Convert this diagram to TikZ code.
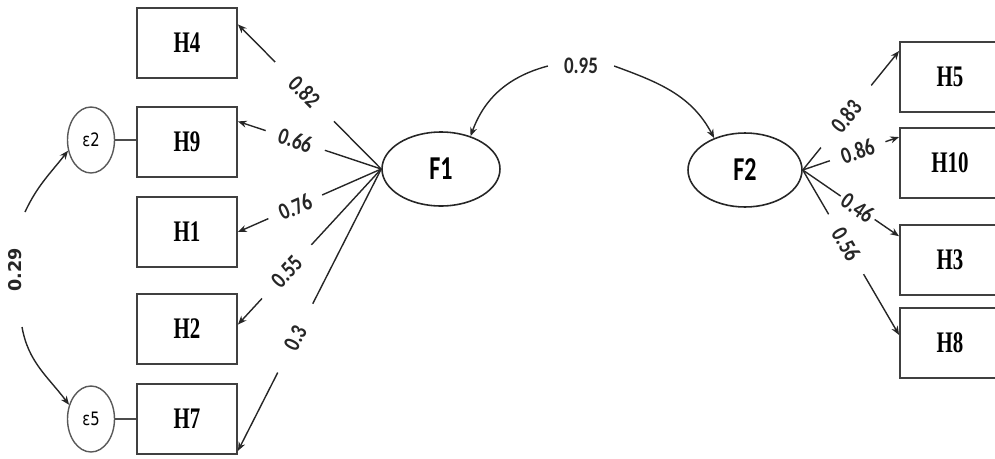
\documentclass[tikz,border=0pt]{standalone}
\usepackage{fontspec}
\usetikzlibrary{arrows.meta,shapes.geometric}
\newfontfamily\hfont[FakeStretch=0.7]{Liberation Serif}
\newfontfamily\nfont[FakeStretch=0.8]{Carlito}
\newfontfamily\ffont[FakeStretch=0.72]{Carlito}
\newfontfamily\dfont{DejaVu Sans}
\newfontfamily\efont[FakeStretch=0.8]{DejaVu Sans}
\begin{document}
\begin{tikzpicture}[x=0.02cm,y=0.02cm,
  ind/.style={draw=black!75,line width=1.1pt,minimum width=20mm,minimum height=14mm,inner sep=0pt,
    font=\hfont\bfseries\fontsize{17}{17}\selectfont},
  lat/.style={draw=black!85,ellipse,line width=0.9pt,minimum width=23.6mm,minimum height=14.8mm,inner sep=0pt,
    font=\ffont\bfseries\fontsize{19}{19}\selectfont},
  err/.style={draw=black!65,ellipse,line width=0.8pt,minimum width=9.4mm,minimum height=13.2mm,inner sep=0pt,
    font=\efont\fontsize{10.5}{10.5}\selectfont},
  load/.style={-{Stealth[length=5pt,width=4pt]},line width=0.8pt,black!85},
  coef/.style={sloped,inner ysep=1pt,text=black!85,font=\nfont\bfseries\fontsize{13.5}{13.5}\selectfont}]
\useasboundingbox (0,0) rectangle (995,458);
\clip (0,0) rectangle (995,458);
\node[ind] (H4) at (187,415) {H4};
\node[ind] (H9) at (187,316) {H9};
\node[ind] (H1) at (187,226) {H1};
\node[ind] (H2) at (187,129) {H2};
\node[ind] (H7) at (187,39) {H7};
\node[ind] (H5) at (950,381) {H5};
\node[ind] (H10) at (950,295) {H10};
\node[ind] (H3) at (950,198) {H3};
\node[ind] (H8) at (950,115) {H8};
\node[err] (E2) at (91,318) {ε2};
\node[err] (E5) at (91,39) {ε5};
\node[lat] (F1) at (441,289) {F1};
\node[lat,minimum width=22.8mm] (F2) at (745,288) {F2};
\draw[line width=0.9pt,black!70] (E2.east) -- (E2.east -| H9.west);
\draw[line width=0.9pt,black!70] (E5.east) -- (E5.east -| H7.west);
\draw[load] (F1.west) -- node[coef,pos=0.535,fill=white,inner xsep=14pt] {0.82} (H4.20);
\draw[load] (F1.west) -- node[coef,pos=0.6,fill=white,inner xsep=8pt] {0.66} (H9.22);
\draw[load] (F1.west) -- node[coef,pos=0.6,fill=white,inner xsep=7pt] {0.76} (H1.east);
\draw[load] (F1.west) -- node[coef,pos=0.66,fill=white,inner xsep=11pt] {0.55} (H2.5);
\draw[load] (F1.west) -- node[coef,pos=0.6,fill=white,inner xsep=15pt] {0.3} (H7.-32);
\draw[load] (F2.east) -- node[coef,pos=0.45,fill=white,inner xsep=13pt] {0.83} (H5.153);
\draw[load] (F2.east) -- node[coef,pos=0.57,fill=white,inner xsep=7pt] {0.86} (H10.153);
\draw[load] (F2.east) -- node[coef,pos=0.57,fill=white,inner xsep=2pt] {0.46} (H3.155);
\draw[load] (F2.east) -- node[coef,pos=0.45,fill=white,inner xsep=10pt] {0.56} (H8.171);
\node[coef,sloped=false,inner xsep=9pt,inner ysep=0pt] (r95) at (581,392) {0.95};
\draw[load] (r95.west) to[out=195,in=70] (F1.48);
\draw[load] (r95.east) to[out=-20,in=118] (F2.134);
\node[rotate=90,text=black!85,font=\dfont\bfseries\fontsize{10}{10}\selectfont] (r29) at (15,188) {0.29};
\coordinate (c29a) at (25,246);
\coordinate (c29b) at (22,131);
\draw[load] (c29a) to[out=65,in=232] (E2.205);
\draw[load] (c29b) to[out=-80,in=127] (E5.147);
\end{tikzpicture}
\end{document}
